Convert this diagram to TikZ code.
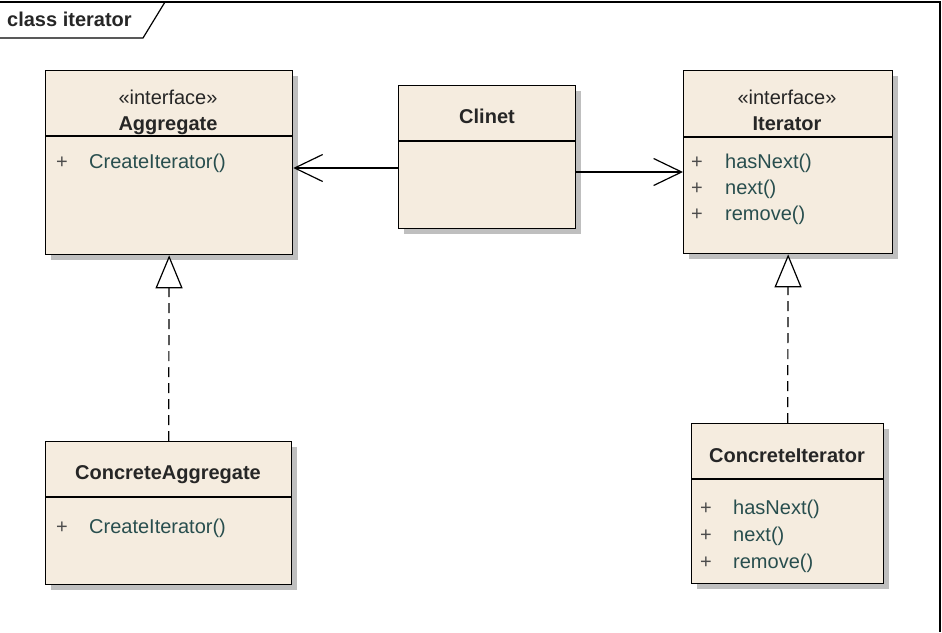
\documentclass[tikz,border=0pt]{standalone}
\usepackage{fontspec}
\setmainfont{Liberation Sans}
\usetikzlibrary{arrows.meta,shadows}
\definecolor{classfill}{RGB}{245,236,223}
\definecolor{opcolor}{RGB}{40,78,78}
\begin{document}
\begin{tikzpicture}[x=1pt,y=-1pt,
    uml/.style={draw=black,line width=1.3pt,fill=classfill,anchor=north west,inner sep=0pt,
        drop shadow={shadow xshift=5pt,shadow yshift=-5pt,fill=black!25,opacity=1}},
    txt/.style={font=\fontsize{20}{24}\selectfont,inner sep=0pt,anchor=base,text=black!85},
    clsname/.style={txt,font=\fontsize{20}{24}\selectfont\bfseries},
    op/.style={txt,anchor=base west,text=opcolor},
    plus/.style={txt,text=black!70},
    assoc/.style={line width=1.2pt,-{Straight Barb[length=28pt,width=27pt]}},
    real/.style={line width=1.2pt,dash pattern=on 10pt off 6pt,
        -{Triangle[open,length=33pt,width=27pt,fill=white]}}]
        \useasboundingbox (0,0) rectangle (942,632);
        %\draw[help lines] (0,0) grid[step=50] (942,632);
        % frame and tab
        \draw[line width=1.2pt] (0,2) -- (940,2) -- (940,632);
        \draw[line width=1.2pt] (0,38) -- (143,38) -- (165,2);
        \node[clsname,anchor=base west] (frame) at (7,26) {class iterator};
        % classes
        \node[uml,minimum width=247,minimum height=184] (agg) at (45,70) {};
        \node[uml,minimum width=177,minimum height=143] (cli) at (398,85) {};
        \node[uml,minimum width=209,minimum height=183] (itr) at (683,70) {};
        \node[uml,minimum width=246,minimum height=143] (cagg) at (45,441) {};
        \node[uml,minimum width=192,minimum height=160] (citr) at (691,423) {};
        \foreach \b/\y in {agg/136,cli/141,itr/137,cagg/497,citr/479}
            \draw[line width=1.2pt] (\b.west |- 0,\y) -- (\b.east |- 0,\y);
        % names
        \node[txt] (aggst) at (168,104) {«interface»};
        \node[clsname] (aggname) at (168,130) {Aggregate};
        \node[clsname] (cliname) at (487,123) {Clinet};
        \node[txt] (itrst) at (787,104) {«interface»};
        \node[clsname] (itrname) at (787,130) {Iterator};
        \node[clsname] (caggname) at (168,479) {ConcreteAggregate};
        \node[clsname] (citrname) at (787,462) {ConcreteIterator};
        % operations
        \node[plus] at (62,168) {+};
        \node[op] (aggop) at (89,168) {CreateIterator()};
        \node[plus] at (62,533) {+};
        \node[op] (caggop) at (89,533) {CreateIterator()};
        \foreach \m/\y in {hasNext()/168,next()/194,remove()/220}
            {\node[plus] at (697,\y) {+}; \node[op] at (725,\y) {\m};}
        \foreach \m/\y in {hasNext()/514,next()/541,remove()/568}
            {\node[plus] at (706,\y) {+}; \node[op] at (733,\y) {\m};}
        % relations
        \draw[assoc] (cli.west |- 0,168) -- (agg.east |- 0,168);
        \draw[assoc] (cli.east |- 0,172) -- (itr.west |- 0,172);
        \draw[real] (cagg.north) -- (agg.south);
        \draw[real] (citr.north) -- (itr.south);
    \end{tikzpicture}
\end{document}
